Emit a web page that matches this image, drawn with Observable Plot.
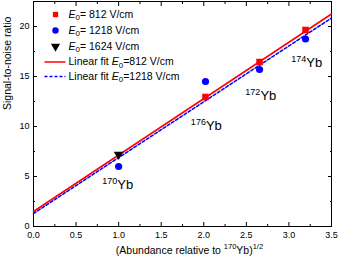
<!DOCTYPE html>
<html><head><meta charset="utf-8">
<script src="https://cdn.jsdelivr.net/npm/d3@7"></script>
<script src="https://cdn.jsdelivr.net/npm/@observablehq/plot@0.6"></script>
<style>body{margin:0;background:#fff} svg{font-family:"Liberation Sans",Arial,sans-serif;background:#fff}</style>
</head><body><div id="chart"></div>
<script>
// Data
const isotopes = ["170", "176", "172", "174"];
const abundanceRoot = [1.0, 2.02, 2.655, 3.195];
const snr812 = [null, 12.95, 16.45, 19.65];
const snr1218 = [6.0, 14.5, 15.7, 18.75];
const snr1624 = [7.2, null, null, null];
const fitX = [0, 3.5];
const fit812 = [1.5, 21.25];
const fit1218 = [1.3, 20.85];
const labelX = [0.99, 2.03, 2.67, 3.21];
const labelY = [3.8, 9.7, 12.7, 16.0];
const xTicks = [0, 0.5, 1.0, 1.5, 2.0, 2.5, 3.0, 3.5];
const xMinor = [0.25, 0.75, 1.25, 1.75, 2.25, 2.75, 3.25];
const yTicks = [0, 5, 10, 15, 20];
const yMinor = [2.5, 7.5, 12.5, 17.5, 22.5];
const markerLabels = ["E0= 812 V/cm", "E0= 1218 V/cm", "E0= 1624 V/cm"];
const fitLabels = ["Linear fit E0=812 V/cm", "Linear fit E0=1218 V/cm"];
const xLabel = "(Abundance relative to 170Yb)1/2";
const yLabel = "Signal-to-noise ratio";

const RED = "#ff0000", BLUE = "#0000ff";

const pts = (ys) => abundanceRoot.map((x, i) => ({x, y: ys[i]})).filter(d => d.y != null);
const fitLine = (ys) => fitX.map((x, i) => ({x, y: ys[i]}));
const labels = isotopes.map((s, i) => ({x: labelX[i], y: labelY[i], t: s + "Yb"}));

const hLine = {draw(ctx) { ctx.moveTo(-10.5, 0); ctx.lineTo(10.5, 0); }};

const plot = Plot.plot({
  width: 339, height: 259,
  marginLeft: 33, marginRight: 8, marginTop: 1, marginBottom: 33,
  style: {fontSize: "9px", fontFamily: "Liberation Sans, Arial, sans-serif", color: "black"},
  x: {domain: [0, 3.5]},
  y: {domain: [0, 22.5]},
  marks: [
    Plot.frame({stroke: "black"}),
    Plot.axisX(xTicks, {anchor: "bottom", tickSize: -4, tickPadding: 9, tickFormat: d3.format(".1f"), label: null}),
    Plot.axisX(xMinor, {anchor: "bottom", tickSize: -2, tickFormat: null, text: null, label: null}),
    Plot.axisX(xTicks, {anchor: "top", tickSize: -4, text: null, label: null}),
    Plot.axisX(xMinor, {anchor: "top", tickSize: -2, text: null, label: null}),
    Plot.axisY(yTicks, {anchor: "left", tickSize: -4, tickPadding: 8, label: null}),
    Plot.axisY(yMinor, {anchor: "left", tickSize: -2, text: null, label: null}),
    Plot.axisY(yTicks, {anchor: "right", tickSize: -4, text: null, label: null}),
    Plot.axisY(yMinor, {anchor: "right", tickSize: -2, text: null, label: null}),
    Plot.text([xLabel], {frameAnchor: "bottom", dy: 27, dx: 7, fontSize: 10.5, text: d => d}),
    Plot.text([yLabel], {frameAnchor: "left", rotate: -90, dx: -26, dy: -4, fontSize: 10.5, text: d => d}),
    Plot.line(fitLine(fit812), {x: "x", y: "y", stroke: RED, strokeWidth: 1.5}),
    Plot.line(fitLine(fit1218), {x: "x", y: "y", stroke: BLUE, strokeWidth: 1.5, strokeDasharray: "3,2"}),
    Plot.dot(pts(snr1218), {x: "x", y: "y", symbol: "circle", r: 3.6, fill: BLUE}),
    Plot.dot(pts(snr812), {x: "x", y: "y", symbol: "square", r: 3.7, fill: RED}),
    Plot.dot(pts(snr1624), {x: "x", y: "y", symbol: "triangle", r: 3.6, rotate: 180, fill: "black"}),
    Plot.text(labels, {x: "x", y: "y", text: "t", fontSize: 13, textAnchor: "middle", lineAnchor: "bottom"}),
    // legend
    Plot.dot([0], {frameAnchor: "top-left", dx: 22, dy: 13, symbol: "square", r: 3, fill: RED}),
    Plot.dot([0], {frameAnchor: "top-left", dx: 22, dy: 29, symbol: "circle", r: 3.2, fill: BLUE}),
    Plot.dot([0], {frameAnchor: "top-left", dx: 22, dy: 45, symbol: "triangle", r: 3.4, rotate: 180, fill: "black"}),
    Plot.dot([0], {frameAnchor: "top-left", dx: 21.5, dy: 60.5, symbol: hLine, stroke: RED, strokeWidth: 1.5, fill: "none"}),
    Plot.dot([0], {frameAnchor: "top-left", dx: 21.5, dy: 75, symbol: hLine, stroke: BLUE, strokeWidth: 1.5, strokeDasharray: "3,2", fill: "none"}),
    ...markerLabels.map((s, i) => Plot.text([s], {frameAnchor: "top-left", dx: 35, dy: 13 + 16 * i, fontSize: 10.5, textAnchor: "start", lineAnchor: "middle", text: d => d})),
    ...fitLabels.map((s, i) => Plot.text([s], {frameAnchor: "top-left", dx: 35, dy: 60.5 + 14.5 * i, fontSize: 10.5, textAnchor: "start", lineAnchor: "middle", text: d => d}))
  ]
});

// rich text: superscripts, italics, subscripts
function rich(el, parts) {
  const t = d3.select(el);
  t.text(null);
  let shift = 0;
  for (const p of parts) {
    const ts = t.append("tspan").text(p.s);
    const target = p.sup ? -p.sup : p.sub ? p.sub : 0;
    if (target !== shift) { ts.attr("dy", target - shift); shift = target; }
    if (p.size) ts.attr("font-size", p.size);
    if (p.it) ts.attr("font-style", "italic");
  }
}
d3.select(plot).selectAll("text").each(function() {
  const s = this.textContent;
  let m;
  if ((m = s.match(/^(\d+)Yb$/))) {
    rich(this, [{s: m[1], sup: 5, size: 9}, {s: "Yb"}]);
  } else if ((m = s.match(/^(.*)E0=(.*)$/))) {
    const parts = [];
    if (m[1]) parts.push({s: m[1].replace(/ /g, "\u00a0")});
    parts.push({s: "E", it: true}, {s: "0", sub: 2.5, size: 8}, {s: "=" + m[2].replace(/ /g, "\u00a0")});
    rich(this, parts);
  } else if (s.startsWith("(Abundance")) {
    rich(this, [{s: "(Abundance relative to\u00a0"}, {s: "170", sup: 4.5, size: 7.5}, {s: "Yb)"}, {s: "1/2", sup: 4.5, size: 7.5}]);
  }
});

document.getElementById("chart").appendChild(plot);
</script>
</body></html>
